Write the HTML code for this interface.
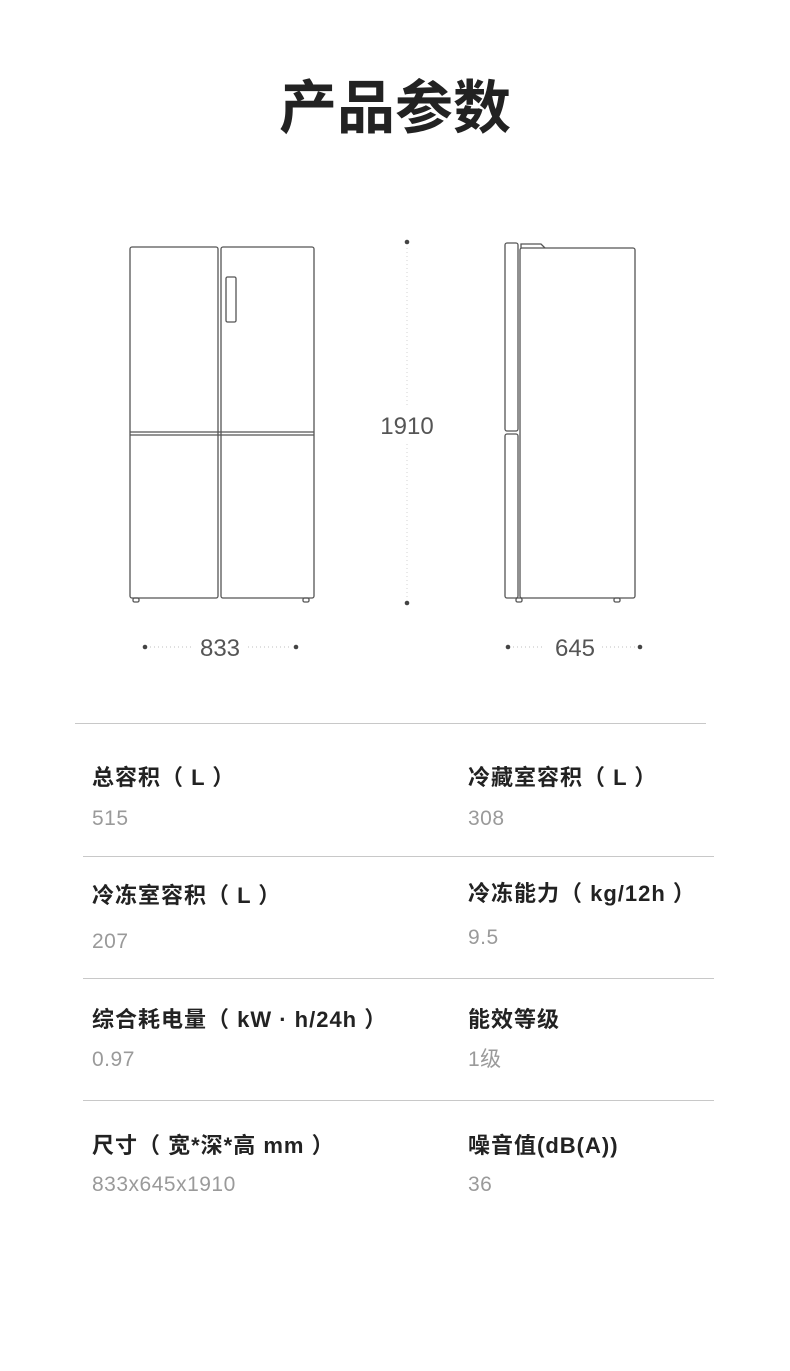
<!DOCTYPE html>
<html><head><meta charset="utf-8"><style>
body{margin:0;width:790px;height:1371px;background:#fff;position:relative;overflow:hidden;font-family:"Liberation Sans","Noto Sans CJK SC",sans-serif;}
.t{position:absolute;white-space:nowrap;line-height:1;}
.l{font-size:22px;font-weight:bold;color:#222;letter-spacing:1px;}
.v{font-size:21px;color:#9a9a9a;letter-spacing:0.5px;}
.hr{position:absolute;height:1px;background:#c8c8c8;}
</style></head><body>
<div class="t" style="left:0;width:790px;text-align:center;top:80px;font-size:58px;font-weight:bold;color:#222;">产品参数</div>
<svg width="790" height="700" style="position:absolute;left:0;top:0" fill="none" stroke="#555" stroke-width="1.3">
<rect x="130" y="247" width="88" height="351" rx="2"/>
<rect x="221" y="247" width="93" height="351" rx="2"/>
<line x1="130" y1="432" x2="314" y2="432"/><line x1="130" y1="435" x2="314" y2="435"/>
<rect x="226" y="277" width="10" height="45" rx="1.5"/>
<rect x="133" y="598" width="6" height="4" rx="1.5"/><rect x="303" y="598" width="6" height="4" rx="1.5"/>
<rect x="505" y="243" width="13" height="188" rx="2"/>
<rect x="505" y="434" width="13" height="164" rx="2"/>
<rect x="520" y="248" width="115" height="350" rx="2"/>
<path d="M521 248 L521 244 L541 244 L545 248"/>
<rect x="516" y="598" width="6" height="4" rx="1.5"/><rect x="614" y="598" width="6" height="4" rx="1.5"/>
<line x1="407" y1="248" x2="407" y2="600" stroke="#ddd" stroke-dasharray="1 3"/>
<rect x="375" y="408" width="64" height="34" fill="#fff" stroke="none"/>
<line x1="150" y1="647" x2="192" y2="647" stroke="#ccc" stroke-dasharray="1 3"/>
<line x1="248" y1="647" x2="292" y2="647" stroke="#ccc" stroke-dasharray="1 3"/>
<line x1="513" y1="647" x2="545" y2="647" stroke="#ccc" stroke-dasharray="1 3"/>
<line x1="602" y1="647" x2="636" y2="647" stroke="#ccc" stroke-dasharray="1 3"/>
<g fill="#444" stroke="none">
<circle cx="407" cy="242" r="2.3"/><circle cx="407" cy="603" r="2.3"/>
<circle cx="145" cy="647" r="2.3"/><circle cx="296" cy="647" r="2.3"/>
<circle cx="508" cy="647" r="2.3"/><circle cx="640" cy="647" r="2.3"/>
</g>
<g fill="#555" stroke="none" font-family="Liberation Sans, sans-serif" font-size="24" text-anchor="middle">
<text x="407" y="434">1910</text><text x="220" y="656">833</text><text x="575" y="656">645</text>
</g>
</svg>
<div class="hr" style="left:75px;width:631px;top:723px;"></div>
<div class="t l" style="left:92px;top:767px;">总容积（ L ）</div>
<div class="t v" style="left:92px;top:808px;">515</div>
<div class="t l" style="left:468px;top:767px;">冷藏室容积（ L ）</div>
<div class="t v" style="left:468px;top:808px;">308</div>
<div class="hr" style="left:83px;width:631px;top:856px;"></div>
<div class="t l" style="left:92px;top:885px;">冷冻室容积（ L ）</div>
<div class="t v" style="left:92px;top:931px;">207</div>
<div class="t l" style="left:468px;top:883px;">冷冻能力（ kg/12h ）</div>
<div class="t v" style="left:468px;top:927px;">9.5</div>
<div class="hr" style="left:83px;width:631px;top:978px;"></div>
<div class="t l" style="left:92px;top:1009px;">综合耗电量（ kW · h/24h ）</div>
<div class="t v" style="left:92px;top:1049px;">0.97</div>
<div class="t l" style="left:468px;top:1009px;">能效等级</div>
<div class="t v" style="left:468px;top:1049px;">1级</div>
<div class="hr" style="left:83px;width:631px;top:1100px;"></div>
<div class="t l" style="left:92px;top:1135px;">尺寸（ 宽*深*高 mm ）</div>
<div class="t v" style="left:92px;top:1174px;">833x645x1910</div>
<div class="t l" style="left:468px;top:1135px;">噪音值(dB(A))</div>
<div class="t v" style="left:468px;top:1174px;">36</div>
</body></html>
